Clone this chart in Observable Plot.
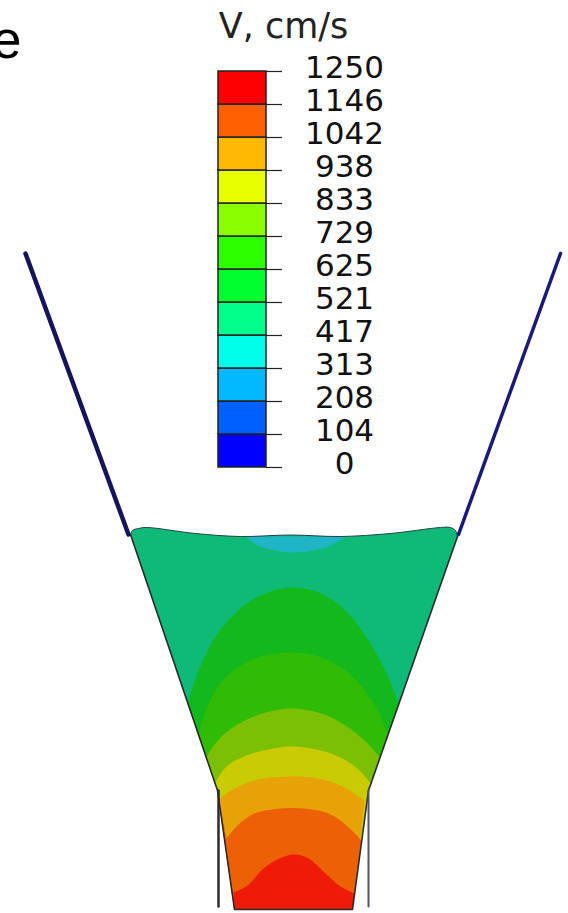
<!DOCTYPE html>
<html><head><meta charset="utf-8">
<style>html,body{margin:0;padding:0;background:#fff}#c{position:relative;width:568px;height:913px}#c svg{position:absolute;left:0;top:0;background:transparent}
#c g[aria-label="line"]{filter:blur(.6px)}</style>
<script src="https://cdn.jsdelivr.net/npm/d3@7"></script>
<script src="https://cdn.jsdelivr.net/npm/@observablehq/plot@0.6"></script>
</head><body><div id="c"></div>
<script>
// Legend
const levelLabels = ["0","104","208","313","417","521","625","729","833","938","1042","1146","1250"];
const levelColors = ["#0000ff","#005fff","#00b9ff","#00ffe8","#00ff8b","#00ff2e","#2eff00","#8bff00","#e8ff00","#ffb900","#ff5f00","#ff0000"];
const legendTitle = "V, cm/s";
const cutOffWord = "e";

// Geometry, in picture units
const neck = [[368,790],[368,790],[352,909],[352,909],[234,909],[234,909],[217,790],[217,790]];
const lowerNeck = neck.slice(2);
const outline = [[130,534],[132,530],[138,528],[146,527],[195,533],[240,536],[290,534.5],[340,536],[390,533],[440,527],[450,527],[455,530],[457,536],[457,536],...neck,[130,534]];
const tealColor = "#0fba76";
const skyPatch = [[245,536],[258,545],[274,550],[292,552],[312,550],[330,545],[345,536]];
const skyColor = "#1fb5c6";
const band1 = [[187,703],[199,668],[218,632],[245,604],[270,591],[292,587],[318,592],[345,610],[368,640],[387,675],[398,703],[398,703],...neck,[187,703]];
const band1Color = "#13b81c";
const band2 = [[198,733],[208,703],[226,676],[254,658],[290,652],[324,658],[352,676],[374,704],[388,733],[388,733],...neck,[198,733]];
const band2Color = "#2fbb06";
const band3 = [[206,757],[214,744],[228,730],[256,715],[290,708],[324,714],[352,730],[370,746],[379,757],[379,757],...neck,[206,757]];
const band3Color = "#7cc005";
const band4 = [[215,782],[226,766],[246,755],[268,749],[290,746],[316,749],[340,757],[358,769],[371,784],[371,784],...neck,[215,782]];
const band4Color = "#c9cc04";
const band5 = [[220,798],[234,788],[258,779],[290,776],[318,778],[342,786],[364,800],[364,800],...lowerNeck,[220,798]];
const band5Color = "#e6a206";
const band6 = [[226,838],[238,824],[254,813],[280,808],[304,808],[328,813],[346,825],[361,840],[361,840],...lowerNeck,[226,838]];
const band6Color = "#ec6006";
const band7 = [[233,892],[247,885],[263,868],[279,858],[294,854],[308,858],[324,872],[340,886],[354,893],[354,893],[352,909],[352,909],[234,909],[234,909],[233,892]];
const band7Color = "#ee1b08";
const wallUpperLeft = [[25,253],[128,534]];
const wallUpperRight = [[560,253],[458,534]];
const wallLowerLeft = [[218,790],[218,906]];
const wallLowerRight = [[368,790],[368,906]];
const px = d => d[0], py = d => d[1];
const poly = (pts, fill) => Plot.line(pts, {x: px, y: py, fill, stroke: "none", curve: "catmull-rom"});
const wall = (pts, stroke, strokeWidth) => Plot.line(pts, {x: px, y: py, stroke, strokeWidth, strokeLinecap: "round"});

const field = Plot.plot({
  width: 568, height: 913, margin: 0,
  x: {domain: [0, 568], range: [0, 568], axis: null},
  y: {domain: [0, 913], range: [0, 913], axis: null},
  marks: [
    poly(outline, tealColor),
    poly(skyPatch, skyColor),
    poly(band1, band1Color),
    poly(band2, band2Color),
    poly(band3, band3Color),
    poly(band4, band4Color),
    poly(band5, band5Color),
    poly(band6, band6Color),
    poly(band7, band7Color),
    Plot.line(outline.slice(0, 14), {x: px, y: py, stroke: "#24404a", strokeWidth: 1, curve: "catmull-rom"}),
    Plot.line(outline.slice(13), {x: px, y: py, stroke: "#2a2a2a", strokeWidth: 1.6}),
    wall(wallUpperLeft, "#15155c", 4.5),
    wall(wallUpperRight, "#1a1a78", 3.5),
    wall(wallLowerLeft, "#2b2b33", 2.5),
    wall(wallLowerRight, "#55555c", 2),
    Plot.text([cutOffWord], {x: 21, y: 57, text: d => d, textAnchor: "end", lineAnchor: "bottom", fontSize: 53, fontFamily: "Liberation Sans", fill: "#000"})
  ]
});

const ticks = d3.range(levelLabels.length);
const legend = Plot.plot({
  width: 568, height: 913, margin: 0,
  x: {domain: [0, 568], range: [0, 568], axis: null},
  y: {domain: [0, levelColors.length], range: [467, 71], axis: null},
  marks: [
    Plot.rect(levelColors, {x1: 218, x2: 266, y1: (d, i) => i, y2: (d, i) => i + 1, fill: d => d, stroke: "#222", strokeWidth: 1.5}),
    Plot.ruleY(ticks, {y: d => d, x1: 266, x2: 282, stroke: "#222", strokeWidth: 1.2}),
    Plot.text(ticks, {y: d => d, x: 344, dy: -3, text: i => levelLabels[i], fontFamily: "DejaVu Sans", fontSize: 31, fill: "#111", textAnchor: "middle"}),
    Plot.text([legendTitle], {x: 283, frameAnchor: "top", dy: 13, text: d => d, fontFamily: "DejaVu Sans", fontSize: 35, fill: "#222", textAnchor: "middle"})
  ]
});
document.getElementById("c").append(field, legend);
</script></body></html>
